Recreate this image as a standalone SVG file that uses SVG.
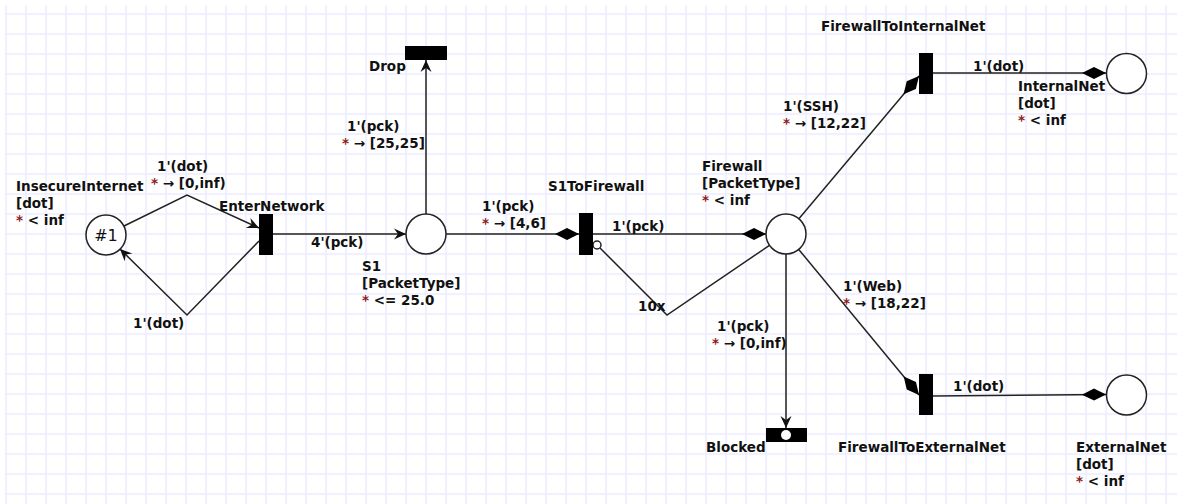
<svg xmlns="http://www.w3.org/2000/svg" width="1177" height="504" viewBox="0 0 1177 504">
<style>
.t{font-family:"DejaVu Sans","Liberation Sans",sans-serif;font-weight:bold;font-size:13.5px;fill:#111;}
.s{fill:#8b1a1a;}
.place{fill:#fff;stroke:#222;stroke-width:1.5;}
.trans{fill:#000;}
.arc{fill:none;stroke:#222;stroke-width:1.5;}
.tok{font-family:"DejaVu Sans",sans-serif;font-size:16px;fill:#111;}
</style>
<defs>
<pattern id="grid" patternUnits="userSpaceOnUse" x="5.25" y="13.25" width="20" height="20">
<path d="M0,0.75 H20 M0.75,0 V20" fill="none" stroke="#ebebff" stroke-width="1.5"/>
</pattern>
<marker id="arr" markerUnits="userSpaceOnUse" viewBox="-14 -7 16 14" refX="0" refY="0" markerWidth="16" markerHeight="14" orient="auto" overflow="visible">
<path d="M0,0 L-12,-5.5 L-8,0 L-12,5.5 z" fill="#111"/>
</marker>
<marker id="dia" markerUnits="userSpaceOnUse" viewBox="-26 -8 28 16" refX="0" refY="0" markerWidth="28" markerHeight="16" orient="auto" overflow="visible">
<path d="M0,0 L-12,-6 L-24,0 L-12,6 z" fill="#000"/>
</marker>
</defs>
<rect width="1177" height="504" fill="#fff"/>
<rect x="5" y="5" width="1172" height="499" fill="url(#grid)"/>

<g id="connectors">
<polyline class="arc" points="124,226 187,195 259,228" marker-end="url(#arr)"/>
<text class="t" x="157" y="171">1'(dot)</text>
<text class="t" x="151" y="188"><tspan class="s">*</tspan> → [0,inf)</text>
<polyline class="arc" points="259,241 187,315 120,249" marker-end="url(#arr)"/>
<text class="t" x="133" y="328">1'(dot)</text>
<line class="arc" x1="273" y1="234" x2="406" y2="234" marker-end="url(#arr)"/>
<text class="t" x="311" y="247">4'(pck)</text>
<line class="arc" x1="426" y1="214" x2="426" y2="60" marker-end="url(#arr)"/>
<text class="t" x="347" y="131">1'(pck)</text>
<text class="t" x="342" y="148"><tspan class="s">*</tspan> → [25,25]</text>
<line class="arc" x1="446" y1="234" x2="579" y2="234" marker-end="url(#dia)"/>
<text class="t" x="482" y="211">1'(pck)</text>
<text class="t" x="482" y="228"><tspan class="s">*</tspan> → [4,6]</text>
<line class="arc" x1="593" y1="234" x2="766" y2="234" marker-end="url(#dia)"/>
<text class="t" x="612" y="231">1'(pck)</text>
<polyline class="arc" points="769.5,245.3 667,315 600,248"/>
<circle cx="597" cy="245" r="4" fill="#fff" stroke="#222" stroke-width="1.5"/>
<text class="t" x="638" y="311">10x</text>
<line class="arc" x1="798.9" y1="218.7" x2="919" y2="76" marker-end="url(#dia)"/>
<text class="t" x="783" y="111">1'(SSH)</text>
<text class="t" x="783" y="128"><tspan class="s">*</tspan> → [12,22]</text>
<line class="arc" x1="933" y1="73" x2="1106" y2="73" marker-end="url(#dia)"/>
<text class="t" x="973" y="71">1'(dot)</text>
<line class="arc" x1="798.7" y1="249.4" x2="919" y2="395" marker-end="url(#dia)"/>
<text class="t" x="843" y="291">1'(Web)</text>
<text class="t" x="843" y="308"><tspan class="s">*</tspan> → [18,22]</text>
<line class="arc" x1="933" y1="396" x2="1106" y2="394.5" marker-end="url(#dia)"/>
<text class="t" x="953" y="391">1'(dot)</text>
<line class="arc" x1="786" y1="254" x2="786" y2="428" marker-end="url(#arr)"/>
<text class="t" x="717" y="331">1'(pck)</text>
<text class="t" x="712" y="348"><tspan class="s">*</tspan> → [0,inf)</text>
</g>

<g id="InsecureInternet">
<circle class="place" cx="106" cy="235" r="20"/>
<text class="tok" x="106" y="241" text-anchor="middle">#1</text>
<text class="t" x="16" y="191">InsecureInternet</text>
<text class="t" x="16" y="208">[dot]</text>
<text class="t" x="16" y="225"><tspan class="s">*</tspan> &lt; inf</text>
</g>
<g id="EnterNetwork">
<rect class="trans" x="259" y="214" width="14" height="41"/>
<text class="t" x="219" y="211">EnterNetwork</text>
</g>
<g id="S1">
<circle class="place" cx="426" cy="234" r="20"/>
<text class="t" x="362" y="271">S1</text>
<text class="t" x="362" y="288">[PacketType]</text>
<text class="t" x="362" y="305"><tspan class="s">*</tspan> &lt;= 25.0</text>
</g>
<g id="Drop">
<rect class="trans" x="405" y="46" width="42" height="14"/>
<text class="t" x="369" y="71">Drop</text>
</g>
<g id="S1ToFirewall">
<rect class="trans" x="579" y="213" width="14" height="42"/>
<text class="t" x="548" y="191">S1ToFirewall</text>
</g>
<g id="Firewall">
<circle class="place" cx="786" cy="234" r="20"/>
<text class="t" x="702" y="171">Firewall</text>
<text class="t" x="702" y="188">[PacketType]</text>
<text class="t" x="702" y="205"><tspan class="s">*</tspan> &lt; inf</text>
</g>
<g id="FirewallToInternalNet">
<rect class="trans" x="919" y="53" width="14" height="41"/>
<text class="t" x="821" y="31">FirewallToInternalNet</text>
</g>
<g id="InternalNet">
<circle class="place" cx="1126.5" cy="73.5" r="20"/>
<text class="t" x="1018" y="91">InternalNet</text>
<text class="t" x="1018" y="108">[dot]</text>
<text class="t" x="1018" y="125"><tspan class="s">*</tspan> &lt; inf</text>
</g>
<g id="FirewallToExternalNet">
<rect class="trans" x="919" y="374" width="14" height="41"/>
<text class="t" x="838" y="452">FirewallToExternalNet</text>
</g>
<g id="ExternalNet">
<circle class="place" cx="1126.5" cy="395" r="20"/>
<text class="t" x="1076" y="452">ExternalNet</text>
<text class="t" x="1076" y="469">[dot]</text>
<text class="t" x="1076" y="486"><tspan class="s">*</tspan> &lt; inf</text>
</g>
<g id="Blocked">
<rect class="trans" x="766" y="428" width="41" height="14"/>
<circle cx="786" cy="435" r="5" fill="#fff"/>
<text class="t" x="706" y="452">Blocked</text>
</g>
</svg>
